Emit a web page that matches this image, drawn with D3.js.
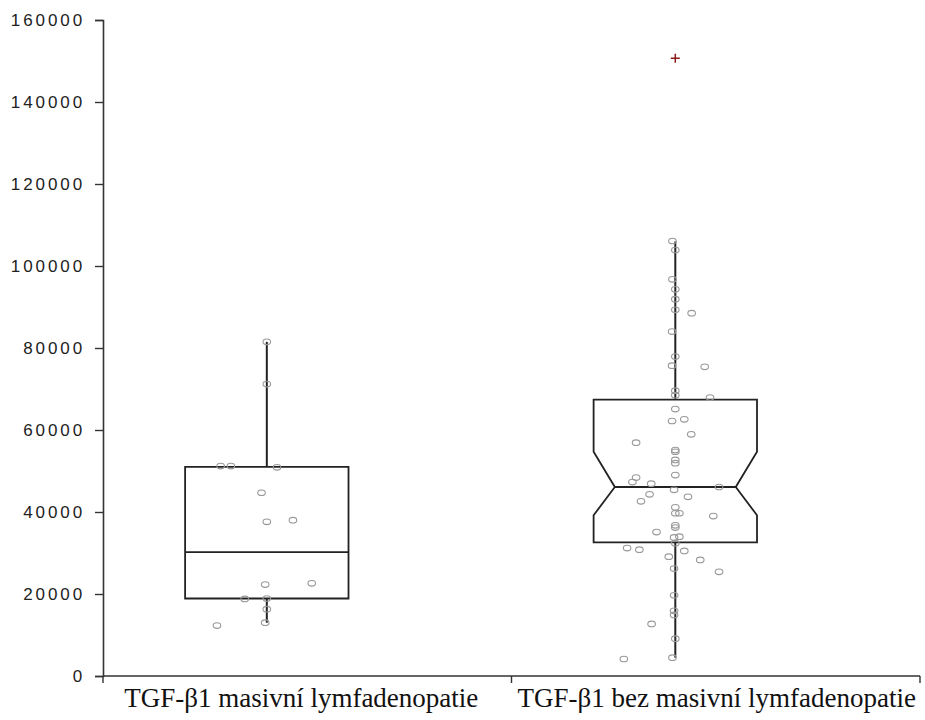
<!DOCTYPE html>
<html>
<head>
<meta charset="utf-8">
<script src="https://cdn.jsdelivr.net/npm/d3@7"></script>
<style>
  html, body { margin: 0; padding: 0; background: #ffffff; }
  svg { display: block; }
</style>
</head>
<body>
<svg id="chart" width="925" height="720"></svg>
<script>
// Group names shown under the x axis
const categories = ["TGF-\u03B21 masivní lymfadenopatie", "TGF-\u03B21 bez masivní lymfadenopatie"];

// Box statistics per group
const whiskerLow  = [13000, 4460];
const quartile1   = [18900, 32600];
const medians     = [30200, 46100];
const quartile3   = [51000, 67400];
const whiskerHigh = [81500, 106000];
const notchLow    = [null, 39200];
const notchHigh   = [null, 54700];

// Outliers beyond the whiskers
const outliers = [[], [150700]];

// Individual observations: [value, horizontal jitter as a fraction of the group band]
const pointsMassive = [
  [81500, 0], [71200, 0], [51200, -0.113], [51200, -0.088], [50900, 0.025],
  [44700, -0.013], [37600, 0], [38000, 0.064], [22300, -0.004], [22600, 0.110],
  [18800, -0.054], [18900, 0], [16300, 0], [13000, -0.004], [12300, -0.122]
];
const pointsWithout = [
  [106100, -0.007], [103900, 0], [96750, -0.007], [94300, 0], [91900, 0],
  [89300, 0], [88500, 0.040], [84000, -0.008], [77900, 0], [75700, -0.008],
  [75400, 0.072], [69600, 0], [68500, 0], [67900, 0.085], [65100, 0],
  [62200, -0.008], [62600, 0.022], [58950, 0.039], [56900, -0.096], [55100, 0],
  [54700, 0], [52700, 0], [51900, 0], [49000, 0], [48400, -0.096],
  [47300, -0.105], [46900, -0.059], [46100, 0.107], [45400, -0.003], [44300, -0.063],
  [43700, 0.031], [42600, -0.084], [41150, 0], [39700, 0], [39700, 0.010],
  [39000, 0.093], [36750, 0], [36200, 0], [35100, -0.046], [33800, -0.003],
  [33970, 0.010], [32400, 0], [31200, -0.118], [30800, -0.088], [30500, 0.022],
  [29100, -0.016], [28300, 0.061], [26200, -0.003], [25400, 0.107], [19700, -0.003],
  [15900, -0.003], [14900, -0.003], [12700, -0.058], [9100, 0], [4460, -0.007],
  [4150, -0.126]
];
const groupPoints = [pointsMassive, pointsWithout];

// Y axis ticks
const yTicks = [0, 20000, 40000, 60000, 80000, 100000, 120000, 140000, 160000];

const svg = d3.select("#chart");
const plotLeft = 103, plotRight = 920, plotTop = 20, plotBottom = 676;

const x = d3.scaleBand().domain(categories).range([plotLeft, plotRight]).paddingInner(0).paddingOuter(0);
const y = d3.scaleLinear().domain([0, 160000]).range([plotBottom, plotTop]);
const bw = x.bandwidth();
const boxW = bw * 0.40;
const boxShift = -bw * 0.099;   // boxes sit slightly left of each band centre

// Y axis
const yAxis = svg.append("g")
  .attr("transform", `translate(${plotLeft},0)`)
  .call(d3.axisLeft(y).tickValues(yTicks).tickFormat(d3.format("d")).tickSize(8).tickPadding(10));
yAxis.select(".domain").attr("stroke", "#333").attr("stroke-width", 1.6);
yAxis.selectAll(".tick line").attr("stroke", "#333").attr("stroke-width", 1.4);
yAxis.selectAll(".tick text")
  .attr("fill", "#222")
  .style("font-family", "'Liberation Sans', Arial, sans-serif")
  .style("font-size", "17px")
  .style("letter-spacing", "2.9px");

// X axis: boundaries between groups carry the ticks
svg.append("line")
  .attr("x1", plotLeft).attr("x2", plotRight).attr("y1", plotBottom).attr("y2", plotBottom)
  .attr("stroke", "#333").attr("stroke-width", 1.6);
const boundaries = [plotLeft, x(categories[1]), plotRight];
svg.selectAll(".xtick").data(boundaries).join("line")
  .attr("class", "xtick")
  .attr("x1", d => d).attr("x2", d => d)
  .attr("y1", plotBottom).attr("y2", plotBottom + 7)
  .attr("stroke", "#333").attr("stroke-width", 1.4);
svg.selectAll(".xlabel").data(categories).join("text")
  .attr("class", "xlabel")
  .attr("x", (d, i) => x(d) + bw / 2 - (i === 0 ? 6 : -1))
  .attr("y", plotBottom + 31)
  .attr("text-anchor", "middle")
  .attr("fill", "#111")
  .style("font-family", "'Liberation Serif', 'Times New Roman', serif")
  .style("font-size", "27px")
  .text(d => d);

// Boxes, whiskers, medians
categories.forEach((cat, i) => {
  const cx = x(cat) + bw / 2 + boxShift;
  const x0 = cx - boxW / 2, x1 = cx + boxW / 2;
  const g = svg.append("g");

  // whiskers
  g.append("line").attr("x1", cx).attr("x2", cx)
    .attr("y1", y(quartile3[i])).attr("y2", y(whiskerHigh[i]))
    .attr("stroke", "#222").attr("stroke-width", 2);
  g.append("line").attr("x1", cx).attr("x2", cx)
    .attr("y1", y(quartile1[i])).attr("y2", y(whiskerLow[i]))
    .attr("stroke", "#222").attr("stroke-width", 2);

  // box outline (notched when notch limits exist)
  let pts;
  if (notchLow[i] != null) {
    const inset = boxW * 0.13;
    pts = [
      [x0, y(quartile3[i])], [x1, y(quartile3[i])],
      [x1, y(notchHigh[i])], [x1 - inset, y(medians[i])], [x1, y(notchLow[i])],
      [x1, y(quartile1[i])], [x0, y(quartile1[i])],
      [x0, y(notchLow[i])], [x0 + inset, y(medians[i])], [x0, y(notchHigh[i])]
    ];
    g.append("line")
      .attr("x1", x0 + inset).attr("x2", x1 - inset)
      .attr("y1", y(medians[i])).attr("y2", y(medians[i]))
      .attr("stroke", "#222").attr("stroke-width", 1.8);
  } else {
    pts = [
      [x0, y(quartile3[i])], [x1, y(quartile3[i])],
      [x1, y(quartile1[i])], [x0, y(quartile1[i])]
    ];
    g.append("line")
      .attr("x1", x0).attr("x2", x1)
      .attr("y1", y(medians[i])).attr("y2", y(medians[i]))
      .attr("stroke", "#222").attr("stroke-width", 1.8);
  }
  g.append("path")
    .attr("d", d3.line()(pts) + "Z")
    .attr("fill", "none").attr("stroke", "#222").attr("stroke-width", 1.8);

  // observations
  g.selectAll(".obs").data(groupPoints[i]).join("ellipse")
    .attr("class", "obs")
    .attr("cx", d => cx + d[1] * bw)
    .attr("cy", d => y(d[0]))
    .attr("rx", 3.8).attr("ry", 2.8)
    .attr("fill", "none")
    .attr("stroke", "#999")
    .attr("stroke-width", 1.1);

  // outliers as crosses
  const s = 4.5;
  g.selectAll(".out").data(outliers[i]).join("path")
    .attr("class", "out")
    .attr("d", v => `M${cx - s},${y(v)}H${cx + s}M${cx},${y(v) - s}V${y(v) + s}`)
    .attr("stroke", "#8b1a1a").attr("stroke-width", 1.5).attr("fill", "none");
});
</script>
</body>
</html>
